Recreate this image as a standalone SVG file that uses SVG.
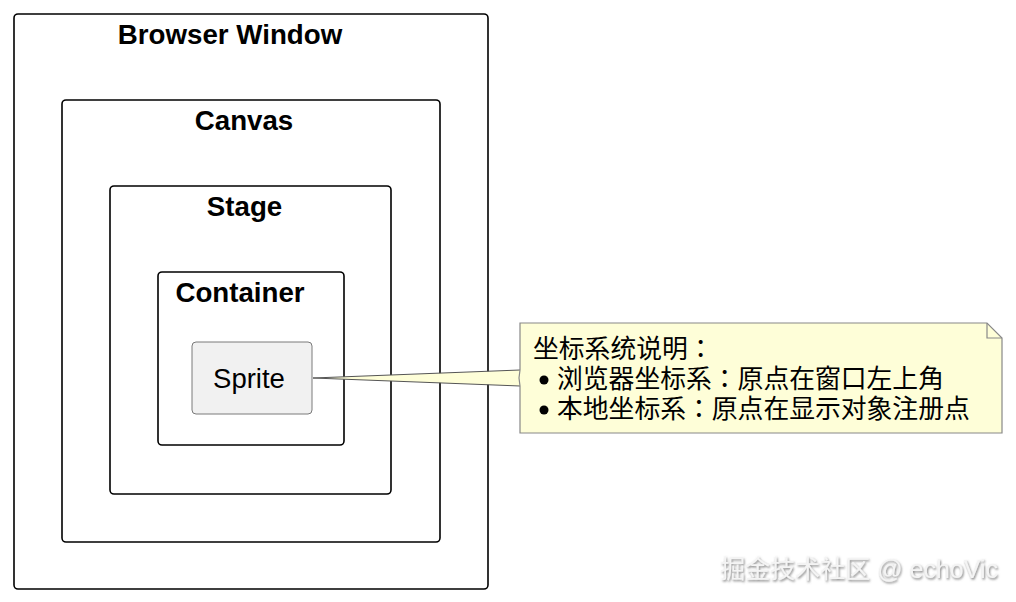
<svg xmlns="http://www.w3.org/2000/svg" width="1016" height="602" viewBox="0 0 1016 602">
<defs>
<style>
.frame{fill:#fff;stroke:#000;stroke-width:1.6}
.title{font-family:"Liberation Sans",Arial,sans-serif;font-weight:bold;font-size:27.7px;fill:#000;text-anchor:middle}
.note{font-family:"Noto Sans CJK JP","Noto Sans CJK SC",sans-serif;font-size:25.8px;fill:#000}
</style>
<filter id="sh" x="-10%" y="-30%" width="120%" height="160%">
<feDropShadow dx="1" dy="1.5" stdDeviation="0.8" flood-color="#777" flood-opacity="0.9"/>
</filter>
</defs>
<rect width="1016" height="602" fill="#fff"/>
<g id="browser-window">
<rect class="frame" x="14" y="14" width="474" height="575" rx="4"/>
<text class="title" x="230" y="44">Browser Window</text>
</g>
<g id="canvas">
<rect class="frame" x="62" y="100" width="378" height="442" rx="4"/>
<text class="title" x="244" y="130">Canvas</text>
</g>
<g id="stage">
<rect class="frame" x="110" y="186" width="281" height="308" rx="4"/>
<text class="title" x="244.5" y="216">Stage</text>
</g>
<g id="container">
<rect class="frame" x="158" y="272" width="186" height="173" rx="4"/>
<text class="title" x="240" y="302">Container</text>
</g>
<g id="sprite">
<rect x="192" y="342" width="120" height="72" rx="4" fill="#f1f1f1" stroke="#7a7a7a" stroke-width="1"/>
<text x="249" y="388" font-family="'Liberation Sans',Arial,sans-serif" font-size="27.5" text-anchor="middle" fill="#000">Sprite</text>
</g>
<g id="connectors">
<path d="M520,370 L313,378 L520,386" fill="#fefed8" stroke="#555" stroke-width="1"/>
</g>
<g id="note">
<path d="M520,323 L987,323 L1002,338 L1002,433 L520,433 L520,386 L519,378 L520,370 Z" fill="#fefed8" stroke="#888" stroke-width="1.2"/>
<path d="M987,323 L987,338 L1002,338" fill="none" stroke="#888" stroke-width="1.2"/>
<text class="note" x="533" y="358">坐标系统说明：</text>
<circle cx="544" cy="380" r="4.5" fill="#000"/>
<text class="note" x="557" y="388">浏览器坐标系：原点在窗口左上角</text>
<circle cx="544" cy="410" r="4.5" fill="#000"/>
<text class="note" x="557" y="418">本地坐标系：原点在显示对象注册点</text>
</g>
<text x="998" y="578" text-anchor="end" font-family="'Liberation Sans','Noto Sans CJK SC',sans-serif" font-size="25" fill="#f4f4f4" filter="url(#sh)">掘金技术社区 @ echoVic</text>
</svg>
